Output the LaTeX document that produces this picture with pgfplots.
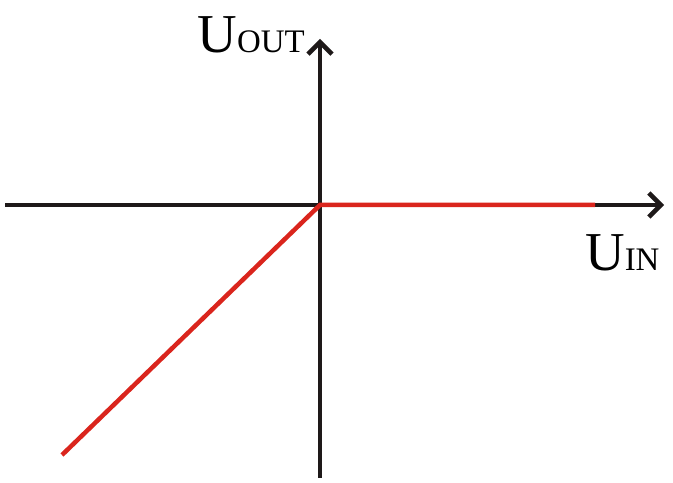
\documentclass[border=0pt]{standalone}
\usepackage{pgfplots}
\pgfplotsset{compat=1.18}
\usepackage{fontspec}
\setmainfont{Liberation Serif}
\usetikzlibrary{arrows.meta}
\definecolor{myred}{RGB}{218,37,29}
\definecolor{myblack}{RGB}{30,25,25}
\newcommand{\bigU}{\fontsize{55}{55}\selectfont}
\newcommand{\subU}{\fontsize{33}{33}\selectfont}
\begin{document}
\begin{tikzpicture}[x=1bp,y=1bp]
\begin{axis}[
  scale only axis, width=673bp, height=483bp,
  xmin=0, xmax=673, ymin=0, ymax=483,
  hide axis, clip=false,
]
\useasboundingbox (axis cs:0,0) rectangle (axis cs:673,483);
% axes
\addplot[myblack, line width=4.5bp, -{Straight Barb[length=12bp,width=24bp,line width=4.5bp]}] coordinates {(5,278) (664,278)};
\addplot[myblack, line width=4.5bp, -{Straight Barb[length=12bp,width=24bp,line width=4.5bp]}] coordinates {(320,5) (320,444)};
% characteristic
\addplot[myred, line width=4.5bp] coordinates {(62,28) (320,278) (595,278)};
\node[anchor=base east, inner sep=0pt] at (axis cs:305,430) {{\bigU U}{\subU OUT}};
\node[anchor=base west, inner sep=0pt] at (axis cs:585,212) {{\bigU U}{\subU IN}};
\end{axis}
\end{tikzpicture}
\end{document}
